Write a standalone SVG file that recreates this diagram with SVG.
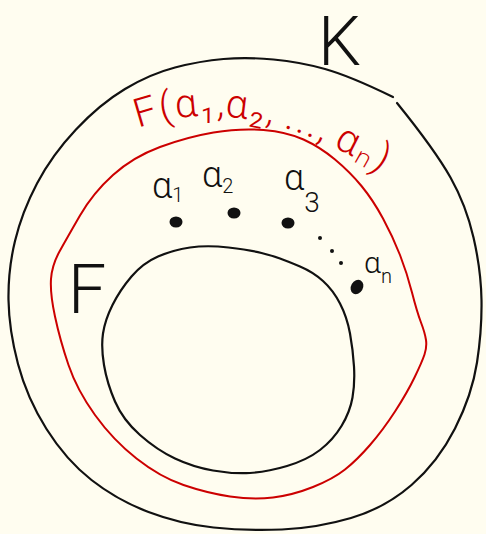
<svg xmlns="http://www.w3.org/2000/svg" xmlns:xlink="http://www.w3.org/1999/xlink" width="486" height="534" viewBox="0 0 486 534">
<style>
.blk{fill:none;stroke:#111;stroke-width:2.2;stroke-linecap:round;stroke-linejoin:round}
.red{fill:none;stroke:#cc0000;stroke-width:2;stroke-linecap:round;stroke-linejoin:round}
.lbl{font-family:Roboto,"Open Sans","DejaVu Sans",sans-serif;font-weight:300;fill:#111}
.rlbl{font-family:Roboto,"Open Sans","DejaVu Sans",sans-serif;font-weight:300;fill:#cc0000;font-size:40px;letter-spacing:2px}
.dot{fill:#111}
</style>
<defs>
<path id="redpath" d="M138,128 Q250,88 392,180" fill="none"/>
</defs>
<rect width="486" height="534" fill="#fffdf0"/>
<g id="field-K">
<path class="blk" d="M397,103 Q435,150 450.5,177.5 Q466,205 473.5,237.5 Q481,270 481.5,300 Q482,330 477,362.5 Q472,395 455,428.5 Q438,462 411.5,485 Q385,508 351,518 Q317,528 282,529.5 Q247,531 213.5,527.5 Q180,524 148.5,512 Q117,500 91.5,480 Q66,460 46.5,429 Q27,398 18,364 Q9,330 8.5,300 Q8,270 15,241 Q22,212 37,183.5 Q52,155 76,129.5 Q100,104 125,89 Q150,74 175,67.5 Q200,61 223.5,59 Q247,57 273.5,59.5 Q300,62 325,69 Q350,76 393,97"/>
<text class="lbl" x="318" y="65" font-size="68">K</text>
</g>
<g id="field-F-alpha">
<path class="red" d="M213.5,132.5 Q240,128 263.5,130 Q287,132 303.5,139.5 Q320,147 335,159.5 Q350,172 361.5,186 Q373,200 383,218.5 Q393,237 400,255 Q407,273 412,292.5 Q417,312 421,322.5 Q425,333 426,340 Q427,347 424.5,354.5 Q422,362 414.5,377.5 Q407,393 395,411.5 Q383,430 370,445 Q357,460 345,469.5 Q333,479 313,487 Q293,495 273,497.5 Q253,500 230,496.5 Q207,493 183.5,485 Q160,477 136.5,458.5 Q113,440 95,415 Q77,390 68.5,365 Q60,340 55,316.5 Q50,293 51,279 Q52,265 59.5,251.5 Q67,238 80,215.5 Q93,193 113,175 Q133,157 160,147 Q187,137 213.5,132.5 Z"/>
<text class="rlbl"><textPath xlink:href="#redpath" href="#redpath" startOffset="0">F(α₁,</textPath></text>
<text class="rlbl"><textPath xlink:href="#redpath" href="#redpath" startOffset="88">α₂,</textPath></text>
<text class="rlbl"><textPath xlink:href="#redpath" href="#redpath" startOffset="148">...,</textPath></text>
<text class="rlbl"><textPath xlink:href="#redpath" href="#redpath" startOffset="201">αₙ)</textPath></text>
</g>
<g id="field-F">
<path class="blk" d="M190,247.5 Q207,245 228.5,247.5 Q250,250 261.5,253 Q273,256 280,258.5 Q287,261 300,266.5 Q313,272 323,281 Q333,290 340,303.5 Q347,317 350,333.5 Q353,350 354,366.5 Q355,383 352.5,397.5 Q350,412 341.5,426 Q333,440 320,450 Q307,460 287,466 Q267,472 250,473 Q233,474 213,470.5 Q193,467 175,458.5 Q157,450 140,435 Q123,420 115,401.5 Q107,383 104,365 Q101,347 103,333.5 Q105,320 112.5,305 Q120,290 131.5,276.5 Q143,263 158,256.5 Q173,250 190,247.5 Z"/>
<text class="lbl" x="68" y="313" font-size="68">F</text>
</g>
<g id="alpha1">
<ellipse class="dot" cx="176" cy="222" rx="6.5" ry="5.5"/>
<text class="lbl" x="152" y="198" font-size="36">α<tspan font-size="20" dy="4">1</tspan></text>
</g>
<g id="alpha2">
<ellipse class="dot" cx="234" cy="213" rx="6.5" ry="5.5"/>
<text class="lbl" x="202" y="187" font-size="36">α<tspan font-size="20" dy="6">2</tspan></text>
</g>
<g id="alpha3">
<ellipse class="dot" cx="288" cy="223" rx="6.5" ry="5.5"/>
<text class="lbl" x="284" y="190" font-size="36">α<tspan font-size="28" dy="22">3</tspan></text>
</g>
<g id="ellipsis">
<circle class="dot" cx="320" cy="238" r="2"/>
<circle class="dot" cx="332" cy="251" r="2"/>
<circle class="dot" cx="341" cy="263" r="2"/>
</g>
<g id="alphan">
<ellipse class="dot" cx="357" cy="287" rx="6" ry="7.5" transform="rotate(30 357 287)"/>
<text class="lbl" x="364" y="273" font-size="30">α<tspan font-size="20" dy="10">n</tspan></text>
</g>
</svg>
